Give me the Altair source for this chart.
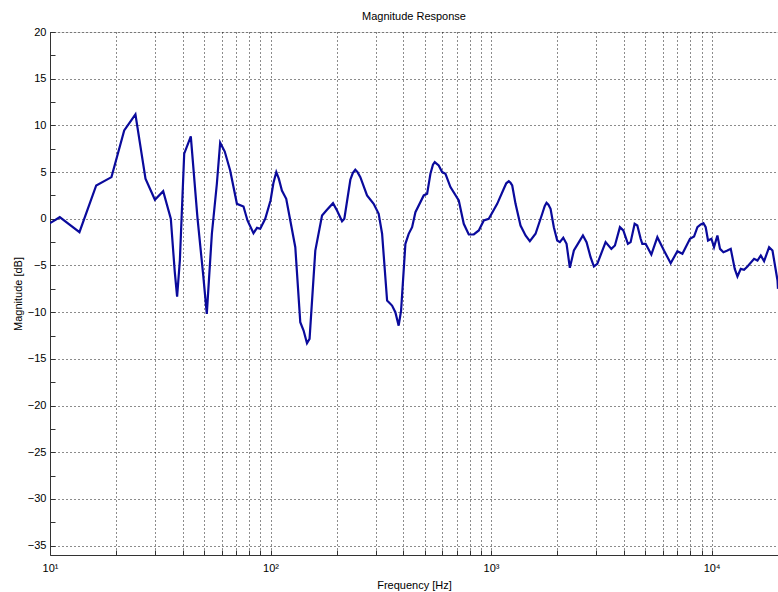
import altair as alt
import pandas as pd

freq = [10, 11.07, 13.6, 16.2, 19.0, 21.7, 24.4, 27.1, 29.9, 32.6, 35.3, 36.8, 37.7, 38.8,
        40.6, 43.5, 46.6, 49.5, 51.4, 54.2, 57.1, 59.1, 62.0, 65.6, 70.4, 75.4, 78.6, 83.7,
        86.8, 89.8, 94.6, 100, 103, 106.2, 109, 112.6, 117.8, 122.9, 129.5, 136.4, 141.2, 146.3, 150.3,
        159.6, 171.2, 180.3, 192.0, 200.2, 211.0, 216.1, 230.1, 236, 242.3, 248, 255.4, 273.9, 293.5,
        309.3, 320.5, 337.7, 355.6, 368.1, 381.0, 390.8, 408.8, 423.1, 438.5, 453.9, 495.0,
        512.9, 530.9, 545, 555.2, 578.9, 599.8, 621.0, 654.3, 713.7, 751.9, 792.2, 834.7, 879.5,
        926.6, 976.3, 1066, 1142, 1172, 1203, 1225, 1247, 1291, 1360, 1433, 1499, 1591, 1706, 1750, 1784,
        1820, 1861, 1926, 1995, 2050, 2125, 2199, 2276, 2374, 2475, 2609, 2710, 2826, 2926, 3031,
        3306, 3510, 3644, 3839, 3978, 4173, 4293, 4477, 4605, 4767, 4849, 5021, 5330, 5675,
        6081, 6523, 6995, 7372, 7980, 8323, 8623, 8927, 9181, 9402, 9632, 9978, 10254,
        10624, 10918, 11314, 11796, 12210, 12734, 13097, 13557, 14033, 14539, 15579, 16142,
        16709, 17297, 18226, 18880, 19896, 20000]
mag = [-0.47, 0.17, -1.44, 3.57, 4.46, 9.46, 11.18, 4.29, 2.04, 2.96, 0.0, -5.72, -8.33, -4.47,
       6.97, 8.82, 0.17, -6.0, -10.18, -1.6, 3.75, 8.15, 7.2, 5.18, 1.6, 1.32, -0.18, -1.54,
       -0.97, -1.07, 0.0, 1.96, 3.8, 5.0, 4.3, 3.03, 2.14, -0.18, -3.04, -11.08, -11.97, -13.33, -12.86,
       -3.4, 0.35, 0.96, 1.67, 0.89, -0.26, 0.0, 4.18, 4.9, 5.25, 5.0, 4.46, 2.5, 1.6,
       0.54, -1.6, -8.76, -9.29, -10.0, -11.44, -9.83, -2.68, -1.61, -0.9, 0.71, 2.5,
       2.68, 4.82, 5.8, 6.07, 5.71, 5.0, 4.82, 3.39, 1.96, -0.54, -1.68, -1.68, -1.25,
       -0.18, 0.0, 1.6, 3.21, 3.8, 4.03, 3.85, 3.57, 1.6, -0.72, -1.79, -2.4, -1.6, 0.54, 1.35, 1.71,
       1.5, 1.07, -0.9, -2.33, -2.5, -2.04, -2.68, -5.25, -3.4, -2.68, -1.79, -2.5, -4.11, -5.11, -4.82,
       -2.5, -3.22, -2.86, -0.9, -1.25, -2.68, -2.5, -0.54, -0.72, -2.14, -2.68, -2.68, -3.83, -1.97,
       -3.4, -4.76, -3.47, -3.75, -2.14, -1.9, -0.9, -0.61, -0.47, -0.9, -2.33, -2.14, -3.04,
       -1.79, -3.22, -3.58, -3.4, -3.22, -5.36, -6.18, -5.36, -5.47, -5.11, -4.29, -4.47,
       -3.93, -4.54, -3.04, -3.4, -6.61, -7.5]

x_grid = [10, 20, 30, 40, 50, 60, 70, 80, 90, 100, 200, 300, 400, 500, 600, 700, 800, 900,
          1000, 2000, 3000, 4000, 5000, 6000, 7000, 8000, 9000, 10000, 20000]
y_major = [-35, -30, -25, -20, -15, -10, -5, 0, 5, 10, 15, 20]
y_minor = [-35, -32.5, -30, -27.5, -25, -22.5, -20, -17.5, -15, -12.5, -10, -7.5, -5, -2.5,
           0, 2.5, 5, 7.5, 10, 12.5, 15, 17.5, 20]

df = pd.DataFrame({"freq": freq, "mag": mag})

FONT = "Liberation Sans"
xscale = alt.Scale(type="log", domain=[10, 20000], nice=False)
yscale = alt.Scale(domain=[-36, 20], nice=False, zero=False)

label_expr = ("datum.value == 10 ? '10¹' : datum.value == 100 ? '10²' : "
              "datum.value == 1000 ? '10³' : datum.value == 10000 ? '10⁴' : ''")

line = alt.Chart(df).mark_line(color="#0a0a9c", strokeWidth=2.2, clip=True).encode(
    x=alt.X("freq:Q", scale=xscale,
            axis=alt.Axis(values=x_grid, grid=True, ticks=False, tickSize=0,
                          labelExpr=label_expr, labelFont=FONT, labelFontSize=11,
                          labelColor="#000", labelPadding=7, labelFlush=False,
                          labelOverlap=False,
                          domainColor="#333", domainWidth=1,
                          gridColor="#000", gridDash=[1, 3], gridOpacity=0.9,
                          title="Frequency [Hz]", titleFont=FONT, titleFontSize=11,
                          titleFontWeight="normal", titleColor="#000",
                          titleX=364, titleY=30, titleBaseline="middle")),
    y=alt.Y("mag:Q", scale=yscale,
            axis=alt.Axis(values=y_major, grid=True, ticks=False, tickSize=0,
                          labelFont=FONT, labelFontSize=11, labelColor="#000",
                          labelPadding=4, labelFlush=False, labelOverlap=False,
                          domainColor="#333", domainWidth=1,
                          gridColor="#000", gridDash=[1, 3], gridOpacity=0.9,
                          title="Magnitude [dB]", titleFont=FONT, titleFontSize=11,
                          titleFontWeight="normal", titleColor="#000",
                          titleAngle=-90, titleX=-32, titleY=261.5,
                          titleAlign="center", titleBaseline="middle")),
)

ticks = alt.Chart(df).mark_line(opacity=0).encode(
    x=alt.X("freq:Q", scale=xscale,
            axis=alt.Axis(values=x_grid, orient="bottom", offset=-5, tickSize=5,
                          tickColor="#333", labels=False, domain=False, grid=False,
                          title=None)),
    y=alt.Y("mag:Q", scale=yscale,
            axis=alt.Axis(values=y_minor, orient="left", offset=-5, tickSize=5,
                          tickColor="#333", labels=False, domain=False, grid=False,
                          title=None)),
)

chart = alt.layer(line, ticks).resolve_axis(x="independent", y="independent").properties(
    width=728, height=523,
    title=alt.TitleParams("Magnitude Response", font=FONT, fontSize=11, fontWeight="normal",
                          color="#000", anchor="middle", offset=4),
    autosize=alt.AutoSizeParams(type="none"),
    padding={"left": 50, "top": 32, "right": 0, "bottom": 37},
).configure_view(stroke=None).configure(background="white")

chart.save("out.html", embed_options={"renderer": "svg", "actions": False})
